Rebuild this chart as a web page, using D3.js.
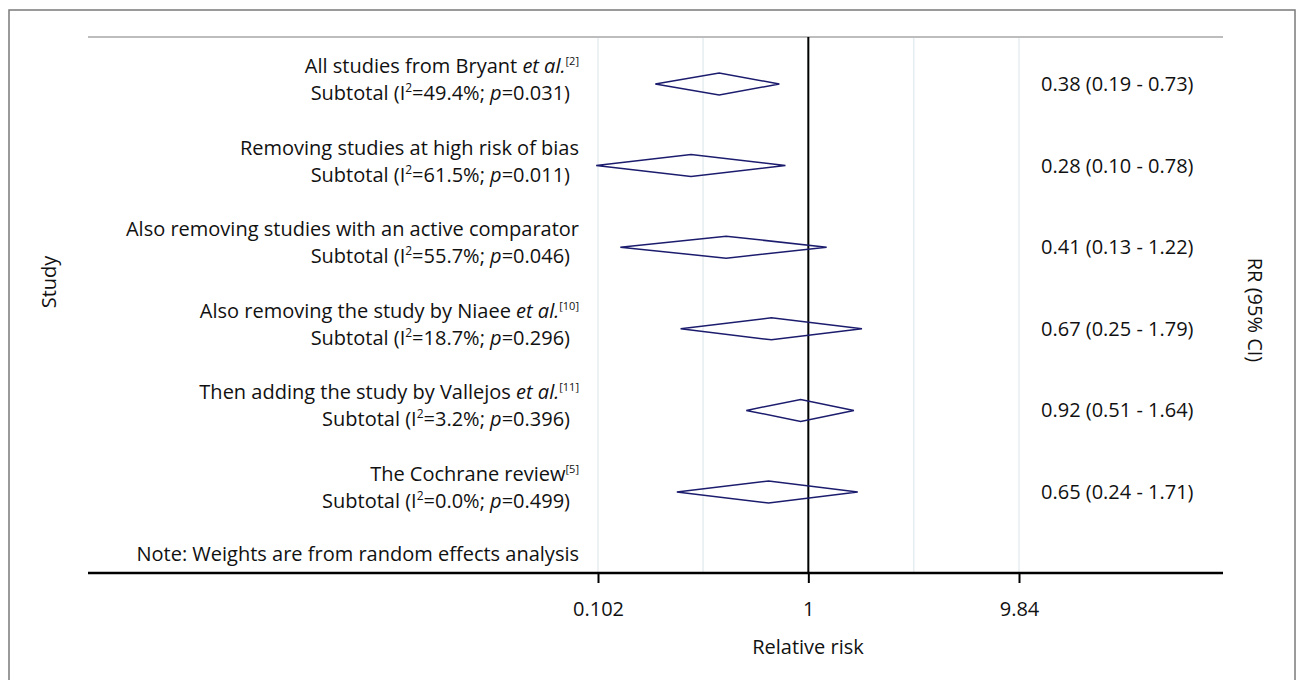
<!DOCTYPE html>
<html>
<head>
<meta charset="utf-8">
<script src="https://cdn.jsdelivr.net/npm/d3@7"></script>
<style>
  body { margin: 0; background: #fff; }
  text { font-family: "Open Sans", sans-serif; fill: #111; }
</style>
</head>
<body>
<svg id="chartId" width="1297" height="680"></svg>
<script>
// subgroup labels (first line), "et al." flag and reference number
const studies = [
  "All studies from Bryant",
  "Removing studies at high risk of bias",
  "Also removing studies with an active comparator",
  "Also removing the study by Niaee",
  "Then adding the study by Vallejos",
  "The Cochrane review"
];
const etAl = [true, false, false, true, true, false];
const refs = ["[2]", "", "", "[10]", "[11]", "[5]"];

// heterogeneity per subtotal
const i2 = [49.4, 61.5, 55.7, 18.7, 3.2, 0.0];
const pValues = ["0.031", "0.011", "0.046", "0.296", "0.396", "0.499"];

// pooled relative risk and 95% CI
const rr = [0.38, 0.28, 0.41, 0.67, 0.92, 0.65];
const lower = [0.19, 0.10, 0.13, 0.25, 0.51, 0.24];
const upper = [0.73, 0.78, 1.22, 1.79, 1.64, 1.71];

const tickValues = [0.102, 1, 9.84];
const gridValues = [0.102, 0.319, 1, 3.14, 9.84];

const svg = d3.select("#chartId");
const fontSize = 20;

// outer frame
svg.append("rect")
  .attr("x", 9).attr("y", 10)
  .attr("width", 1286).attr("height", 700)
  .attr("fill", "none")
  .attr("stroke", "#7a7a7a")
  .attr("stroke-width", 1.5);

const plotLeft = 88, plotRight = 1223, plotTop = 37, plotBottom = 573;

const x = d3.scaleLog().domain([0.102, 9.84]).range([598, 1019]);
const y = d3.scalePoint().domain(d3.range(rr.length)).range([84, 492]);

// grid
svg.append("g")
  .selectAll("line")
  .data(gridValues)
  .join("line")
  .attr("x1", d => x(d)).attr("x2", d => x(d))
  .attr("y1", plotTop).attr("y2", plotBottom)
  .attr("stroke", "#e6edf1")
  .attr("stroke-width", 1.5);

// top border line
svg.append("line")
  .attr("x1", plotLeft).attr("x2", plotRight)
  .attr("y1", plotTop).attr("y2", plotTop)
  .attr("stroke", "#bdbdbd")
  .attr("stroke-width", 2);

// null line at RR = 1
svg.append("line")
  .attr("x1", x(1)).attr("x2", x(1))
  .attr("y1", plotTop).attr("y2", plotBottom)
  .attr("stroke", "#000")
  .attr("stroke-width", 2);

// x axis
const xAxis = d3.axisBottom(x)
  .tickValues(tickValues)
  .tickFormat(d => String(d))
  .tickSize(10)
  .tickPadding(19);

const xAxisG = svg.append("g")
  .attr("transform", `translate(0, ${plotBottom})`)
  .call(xAxis);

xAxisG.select(".domain").remove();
xAxisG.selectAll(".tick line").attr("stroke", "#000").attr("stroke-width", 2);
xAxisG.selectAll(".tick text")
  .attr("font-size", fontSize)
  .attr("font-family", "Open Sans, sans-serif")
  .attr("fill", "#111");

svg.append("line")
  .attr("x1", plotLeft).attr("x2", plotRight)
  .attr("y1", plotBottom).attr("y2", plotBottom)
  .attr("stroke", "#000")
  .attr("stroke-width", 2.5);

// diamonds
const h = 11;
svg.append("g")
  .selectAll("path")
  .data(rr)
  .join("path")
  .attr("d", (d, i) => {
    const cy = y(i);
    return `M${x(lower[i])},${cy}L${x(d)},${cy - h}L${x(upper[i])},${cy}L${x(d)},${cy + h}Z`;
  })
  .attr("fill", "none")
  .attr("stroke", "#1c1c6e")
  .attr("stroke-width", 1.5);

// left labels
const labels = svg.append("g").attr("font-size", fontSize);

studies.forEach((s, i) => {
  const t1 = labels.append("text")
    .attr("x", 579).attr("y", y(i) - 11)
    .attr("text-anchor", "end");
  t1.append("tspan").text(etAl[i] ? s + " " : s);
  if (etAl[i]) t1.append("tspan").attr("font-style", "italic").text("et al.");
  if (refs[i]) {
    t1.append("tspan").attr("dy", -8).attr("font-size", 11).text(refs[i]);
  }

  const t2 = labels.append("text")
    .attr("x", 570).attr("y", y(i) + 16)
    .attr("text-anchor", "end");
  t2.append("tspan").text("Subtotal (I");
  t2.append("tspan").attr("dy", -8).attr("font-size", 12).text("2");
  t2.append("tspan").attr("dy", 8).text(`=${i2[i].toFixed(1)}%; `);
  t2.append("tspan").attr("font-style", "italic").text("p");
  t2.append("tspan").text(`=${pValues[i]})`);
});

labels.append("text")
  .attr("x", 579).attr("y", 561)
  .attr("text-anchor", "end")
  .text("Note: Weights are from random effects analysis");

// right labels
svg.append("g")
  .attr("font-size", fontSize)
  .selectAll("text")
  .data(rr)
  .join("text")
  .attr("x", 1041)
  .attr("y", (d, i) => y(i) + 7)
  .text((d, i) => `${d.toFixed(2)} (${lower[i].toFixed(2)} - ${upper[i].toFixed(2)})`);

// axis titles
svg.append("text")
  .attr("x", 808).attr("y", 654)
  .attr("text-anchor", "middle")
  .attr("font-size", fontSize)
  .text("Relative risk");

svg.append("text")
  .attr("transform", "translate(56, 282) rotate(-90)")
  .attr("text-anchor", "middle")
  .attr("font-size", fontSize)
  .text("Study");

svg.append("text")
  .attr("transform", "translate(1248, 310) rotate(90)")
  .attr("text-anchor", "middle")
  .attr("font-size", fontSize)
  .text("RR (95% CI)");
</script>
</body>
</html>
